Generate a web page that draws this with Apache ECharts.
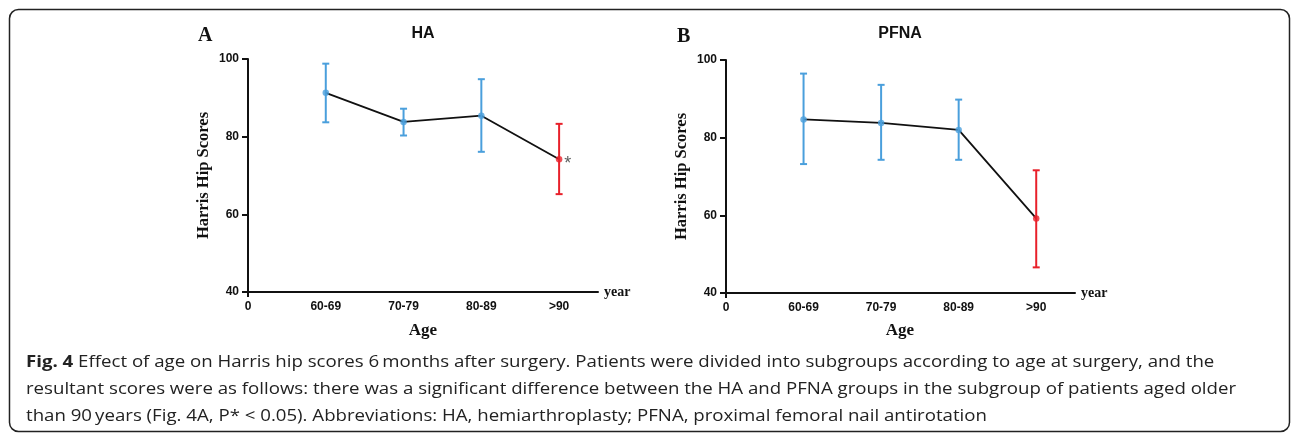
<!DOCTYPE html>
<html>
<head>
<meta charset="utf-8">
<script src="https://cdn.jsdelivr.net/npm/echarts@6/dist/echarts.min.js"></script>
<style>
  html, body { margin: 0; padding: 0; background: #fff; }
  #chart { width: 1292px; height: 436px; }
</style>
</head>
<body>
<div id="chart"></div>
<script>
// ---- data ----
const categories = ['60-69', '70-79', '80-89', '>90'];
const xTickLabels = ['0', '60-69', '70-79', '80-89', '>90'];
const yTicks = [40, 60, 80, 100];
const haMean = [91.3, 83.8, 85.4, 74.2];
const haUpper = [98.8, 87.2, 94.8, 83.3];
const haLower = [83.7, 80.3, 76.1, 65.2];
const pfnaMean = [84.7, 83.8, 82.0, 59.2];
const pfnaUpper = [96.5, 93.6, 89.8, 71.6];
const pfnaLower = [73.2, 74.3, 74.3, 46.6];
const significant = [false, false, false, true]; // >90 group highlighted
const haStar = ['', '', '', '*'];
const captionLines = [
  '{b|Fig. 4} Effect of age on Harris hip scores 6\u2009months after surgery. Patients were divided into subgroups according to age at surgery, and the',
  'resultant scores were as follows: there was a significant difference between the HA and PFNA groups in the subgroup of patients aged older',
  'than 90\u2009years (Fig. 4A, P* < 0.05). Abbreviations: HA, hemiarthroplasty; PFNA, proximal femoral nail antirotation'
];

const BLUE = '#4a9fdc';
const RED = '#e8202a';
const colorOf = i => significant[i] ? RED : BLUE;

const chart = echarts.init(document.getElementById('chart'), null, { renderer: 'canvas' });

function xAxisCfg(gi) {
  return {
    type: 'value', gridIndex: gi, min: 0, max: 4.5, interval: 1,
    name: 'year', nameLocation: 'end', nameGap: 6,
    nameTextStyle: { fontFamily: 'Liberation Serif', fontWeight: 'bold', fontSize: 14, color: '#111' },
    axisLine: { show: true, onZero: false, lineStyle: { color: '#111', width: 2 } },
    axisTick: { show: true, customValues: [0], length: 5, lineStyle: { color: '#111', width: 2 } },
    axisLabel: {
      customValues: [0, 1, 2, 3, 4], margin: 9,
      fontFamily: 'Liberation Sans', fontWeight: 'bold', fontSize: 12, color: '#111',
      formatter: v => xTickLabels[Math.round(v)] || ''
    },
    splitLine: { show: false }
  };
}
function yAxisCfg(gi) {
  return {
    type: 'value', gridIndex: gi, min: 40, max: 100, interval: 20,
    name: 'Harris Hip Scores', nameLocation: 'middle', nameGap: 36, nameRotate: 90,
    nameTextStyle: { fontFamily: 'Liberation Serif', fontWeight: 'bold', fontSize: 16.5, color: '#111' },
    axisLine: { show: true, lineStyle: { color: '#111', width: 2 } },
    axisTick: { show: true, length: 6, lineStyle: { color: '#111', width: 2 } },
    axisLabel: {
      margin: 9, fontFamily: 'Liberation Sans', fontWeight: 'bold', fontSize: 12, color: '#111',
      formatter: v => yTicks.includes(v) ? String(v) : ''
    },
    splitLine: { show: false }
  };
}

function panelSeries(gi, mean, upper, lower, star) {
  const pts = mean.map((m, i) => [i + 1, m]);
  return [
    {
      type: 'line', xAxisIndex: gi, yAxisIndex: gi, data: pts, symbol: 'none',
      lineStyle: { color: '#111', width: 1.8 }, z: 2, silent: true
    },
    {
      type: 'custom', xAxisIndex: gi, yAxisIndex: gi, z: 3,
      data: mean.map((m, i) => [i + 1, lower[i], upper[i]]),
      renderItem: (params, api) => {
        const x = api.value(0);
        const lo = api.coord([x, api.value(1)]);
        const hi = api.coord([x, api.value(2)]);
        const c = colorOf(params.dataIndex);
        const hw = 3.5;
        const st = { stroke: c, lineWidth: 2 };
        return {
          type: 'group',
          children: [
            { type: 'line', shape: { x1: lo[0], y1: lo[1], x2: hi[0], y2: hi[1] }, style: st },
            { type: 'line', shape: { x1: hi[0] - hw, y1: hi[1], x2: hi[0] + hw, y2: hi[1] }, style: st },
            { type: 'line', shape: { x1: lo[0] - hw, y1: lo[1], x2: lo[0] + hw, y2: lo[1] }, style: st }
          ]
        };
      }
    },
    {
      type: 'scatter', xAxisIndex: gi, yAxisIndex: gi, z: 4, symbolSize: 6.5,
      data: pts.map((p, i) => ({
        value: p,
        itemStyle: { color: colorOf(i) },
        label: star && star[i] ? {
          show: true, formatter: star[i], position: 'right', distance: 2,
          fontFamily: 'Liberation Sans', fontSize: 18, color: '#333', offset: [0, 5]
        } : { show: false }
      }))
    }
  ];
}

const titleBase = { padding: 0 };
const option = {
  animation: false,
  backgroundColor: '#fff',
  grid: [
    { left: 248, top: 59, width: 350, height: 233, containLabel: false },
    { left: 726, top: 60, width: 349, height: 233, containLabel: false }
  ],
  xAxis: [xAxisCfg(0), xAxisCfg(1)],
  yAxis: [yAxisCfg(0), yAxisCfg(1)],
  title: [
    Object.assign({ text: 'HA', left: 423, top: 26, textAlign: 'center',
      textStyle: { fontFamily: 'Liberation Sans', fontWeight: 'bold', fontSize: 16, color: '#111' } }, titleBase),
    Object.assign({ text: 'PFNA', left: 900, top: 26, textAlign: 'center',
      textStyle: { fontFamily: 'Liberation Sans', fontWeight: 'bold', fontSize: 16, color: '#111' } }, titleBase),
    Object.assign({ text: 'Age', left: 423, top: 322, textAlign: 'center',
      textStyle: { fontFamily: 'Liberation Serif', fontWeight: 'bold', fontSize: 17, color: '#111' } }, titleBase),
    Object.assign({ text: 'Age', left: 900, top: 322, textAlign: 'center',
      textStyle: { fontFamily: 'Liberation Serif', fontWeight: 'bold', fontSize: 17, color: '#111' } }, titleBase),
    Object.assign({ text: 'A', left: 198, top: 26,
      textStyle: { fontFamily: 'Liberation Serif', fontWeight: 'bold', fontSize: 20, color: '#111' } }, titleBase),
    Object.assign({ text: 'B', left: 677, top: 27,
      textStyle: { fontFamily: 'Liberation Serif', fontWeight: 'bold', fontSize: 20, color: '#111' } }, titleBase)
  ],
  graphic: [
    { type: 'rect', shape: { x: 9.5, y: 9.5, width: 1280, height: 422, r: 9 },
      style: { fill: null, stroke: '#222', lineWidth: 1.5 }, silent: true, z: -1 }
  ].concat(captionLines.map((t, i) => ({
    type: 'text', x: 26, y: 362 + i * 27, scaleX: 1.165,
    style: {
      text: t, fontFamily: 'Open Sans', fontSize: 16, fill: '#222', verticalAlign: 'middle',
      rich: { b: { fontFamily: 'Open Sans', fontWeight: 'bold', fontSize: 16, fill: '#222' } }
    }
  }))),
  series: [].concat(
    panelSeries(0, haMean, haUpper, haLower, haStar),
    panelSeries(1, pfnaMean, pfnaUpper, pfnaLower, null)
  )
};
chart.setOption(option);
</script>
</body>
</html>
